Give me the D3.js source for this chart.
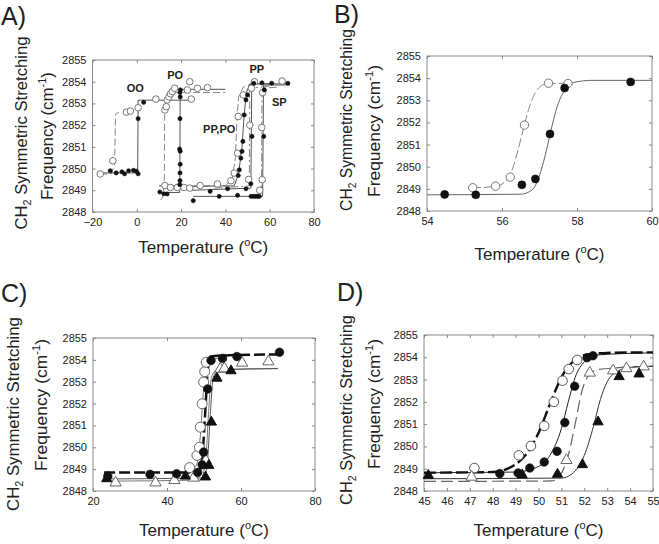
<!DOCTYPE html>
<html><head><meta charset="utf-8">
<script src="https://cdn.jsdelivr.net/npm/d3@7"></script>
<style>body{margin:0;background:#fff}svg{display:block}text{font-family:"Liberation Sans",Arial,sans-serif;fill:#222}</style>
</head><body><svg id="c" width="659" height="544"></svg>
<script>
// ---------- tick labels ----------
const ticksAX = [-20,0,20,40,60,80];
const ticksBX = [54,56,58,60];
const ticksCX = [20,40,60,80];
const ticksDX = [45,46,47,48,49,50,51,52,53,54,55];
const ticksY  = [2848,2849,2850,2851,2852,2853,2854,2855];

// ---------- Panel A data (temperature, frequency) ----------
const aOOFilled = [[-12,2849.9],[-9.3,2849.8],[-6.7,2849.85],[-5.5,2849.76],[-3.7,2849.9],[-1.5,2849.92],[-0.2,2849.88],[0.6,2849.76],[0.6,2852.3],[3.1,2853.05]];
const aOOOpen = [[-16.5,2849.75],[-10.8,2850.36],[-4.7,2852.6],[-2.9,2852.65],[0.6,2852.8],[8.6,2853.2],[24.6,2853.2]];
const aPOFilled = [[10.4,2848.92],[12.2,2848.84],[13.7,2848.83],[19.4,2849.26],[19.5,2849.45],[19.5,2849.8],[19.6,2850.2],[19.3,2850.9],[19.6,2850.8],[19.5,2852.3],[19.6,2853.3],[19.5,2853.5],[19.7,2853.62]];
const aPOOpen = [[12.7,2852.7],[13.3,2852.85],[13.7,2853.16],[14.5,2853.3],[15.2,2853.44],[16.0,2853.54],[17.1,2853.7],[22.8,2853.62],[23.9,2854.0],[27.4,2853.7],[31.9,2853.73]];
const aPPPOFilled = [[45.8,2849.68],[46.3,2849.94],[47.0,2850.48],[47.5,2850.79],[47.9,2851.25],[48.5,2852.47],[49.3,2853.16],[50.0,2853.39]];
const aPPPOOpen = [[12.7,2849.22],[15.2,2849.13],[18.3,2849.13],[21.3,2849.13],[23.9,2849.1],[28.6,2849.22],[36.4,2849.29],[42.5,2849.44],[44.0,2849.79],[45.5,2850.71],[45.8,2852.4],[48.1,2853.39]];
const aPPFilled = [[33.1,2848.95],[41.0,2849.07],[49.3,2849.07],[51.5,2849.3],[52.0,2851.48],[52.8,2853.93],[56.5,2853.95]];
const aPPOpen = [[50.5,2849.5],[51.0,2852.0],[51.8,2853.7],[53.1,2854.0]];
const aSPFilled = [[25.5,2848.52],[37.2,2848.72],[45.5,2848.77],[51.6,2848.72],[52.6,2848.72],[53.6,2848.72],[54.5,2848.72],[55.3,2848.72],[57.3,2851.48],[57.6,2853.62],[60.9,2853.93],[68.2,2853.93]];
const aSPOpen = [[55.5,2849.0],[56.6,2849.49],[56.4,2851.89],[56.8,2853.5],[65.6,2854.03]];
// fit traces
const aOOFilledFit = [[-16.5,2849.8],[0.4,2849.8],[0.6,2853.15],[25.5,2853.15]];
const aOOOpenFit = [[-16.5,2849.75],[-11.5,2849.75],[-10,2850.2],[-9.6,2852.5],[-8,2852.6]];
const aPOFilledFit = [[10,2848.9],[19.4,2848.9],[19.6,2853.65],[40,2853.65]];
const aPOOpenFit = [[10.8,2848.55],[11.8,2848.7],[12.4,2849.3],[12.6,2852.6],[14,2853.2],[17,2853.5],[40,2853.5]];
const aPPPOFilledFit = [[10,2849.2],[44,2849.2],[46,2849.8],[47.5,2851],[48.5,2852.5],[49.5,2853.5],[51,2853.9],[60,2853.9]];
const aPPPOOpenFit = [[12,2849.15],[40,2849.2],[43,2849.5],[44.5,2850.5],[45.3,2852.5],[46,2853.3],[48,2853.75],[52,2853.9]];
const aPPFilledFit = [[25,2849.0],[51.5,2849.1],[51.9,2853.9],[68,2853.9]];
const aPPOpenFit = [[35,2849.1],[50.8,2849.2],[51.0,2853.7],[60,2853.8]];
const aSPFilledFit = [[25.5,2848.72],[56.8,2848.72],[57.2,2853.85],[69,2853.85]];
const aSPOpenFit = [[55,2848.9],[56.3,2849.1],[56.5,2853.7],[64,2853.75]];
const aLabels = ["OO","PO","PP","PP,PO","SP"];
const aLabelPos = [[-0.7,2853.53],[17.3,2854.12],[54.2,2854.42],[37.2,2851.64],[64.3,2852.88]];

// ---------- Panel B ----------
const bFilled = [[54.47,2848.75],[55.3,2848.73],[56.53,2849.18],[56.89,2849.45],[57.28,2851.48],[57.67,2853.55],[59.43,2853.83]];
const bOpen = [[55.22,2849.05],[55.83,2849.12],[56.22,2849.53],[56.6,2851.88],[57.24,2853.77],[57.76,2853.76]];
const bFilledFit = [[54,2848.73],[56.5,2848.76],[56.8,2848.95],[57.0,2849.6],[57.15,2850.5],[57.3,2851.6],[57.45,2852.6],[57.65,2853.4],[57.9,2853.8],[58.4,2853.9],[60,2853.9]];
const bOpenFit = [[55.2,2849.05],[55.8,2849.1],[56.1,2849.35],[56.3,2850.0],[56.45,2850.9],[56.6,2851.9],[56.75,2852.8],[56.95,2853.5],[57.2,2853.75],[57.8,2853.77]];

// ---------- Panel C ----------
const cFilledCircle = [[24.0,2848.68],[35.4,2848.76],[42.6,2848.79],[48.3,2848.85],[49.5,2849.2],[49.9,2849.78],[51.0,2852.67],[51.9,2853.97],[55.0,2854.07],[58.9,2854.15],[70.4,2854.35]];
const cOpenCircle = [[46.1,2849.07],[48.1,2849.63],[48.75,2850.0],[49.0,2850.92],[49.5,2851.99],[49.9,2852.98],[50.2,2853.46],[50.6,2853.89]];
const cFilledTri = [[23.7,2848.56],[45.0,2848.68],[50.4,2848.64],[51.3,2849.17],[52.0,2851.15],[53.5,2853.16],[57.3,2853.5]];
const cOpenTri = [[26.1,2848.38],[36.9,2848.38],[42.0,2848.49],[47.2,2848.6],[50.5,2849.4],[54.4,2853.58],[55.5,2853.6],[60.3,2853.86],[67.4,2853.92]];
const cFilledCircleFit = [[23,2848.85],[48.5,2848.85],[49.5,2849.5],[50.3,2851.5],[51,2853.5],[51.8,2854.15],[55,2854.2],[71,2854.25]];
const cOpenCircleFit = [[46,2848.9],[48,2849.2],[49,2850.5],[49.8,2852.5],[50.5,2853.7],[51.5,2854.0],[56,2854.1]];
const cFilledTriFit = [[23,2848.55],[50,2848.6],[51,2849.5],[51.7,2851.5],[52.5,2853.2],[54,2853.55],[70,2853.6]];
const cOpenTriFit = [[23,2848.45],[49,2848.5],[50.5,2849.5],[51.2,2851.5],[52,2853.2],[53.5,2853.55],[70,2853.6]];

// ---------- Panel D ----------
const dOpenCircle = [[47.2,2849.03],[49.14,2849.6],[49.67,2850.02],[50.25,2850.92],[50.67,2852.0],[51.05,2852.95],[51.32,2853.47],[51.69,2853.88]];
const dFilledCircle = [[48.31,2848.78],[49.11,2848.81],[49.62,2849.03],[50.25,2849.3],[50.81,2849.78],[51.15,2851.07],[51.58,2852.7],[52.12,2853.98],[52.38,2854.07]];
const dOpenTri = [[47.08,2848.63],[51.22,2849.38],[52.24,2853.3],[53.26,2853.4],[53.84,2853.5],[54.59,2853.58]];
const dFilledTri = [[45.19,2848.7],[49.29,2848.72],[50.83,2848.75],[51.92,2849.18],[52.6,2851.1],[53.52,2853.13],[54.39,2853.25]];
const dOpenCircleFit = [[45,2848.82],[48,2848.85],[49,2849.2],[49.5,2849.7],[50,2850.6],[50.5,2851.9],[51,2853.1],[51.5,2853.8],[52,2854.1],[53,2854.2],[55,2854.22]];
const dFilledCircleFit = [[45,2848.82],[49,2848.85],[50,2849.1],[50.5,2849.6],[51,2850.8],[51.3,2852],[51.6,2853.1],[52,2853.8],[52.5,2854.1],[55,2854.2]];
const dOpenTriFit = [[45,2848.43],[50.6,2848.45],[51.0,2848.8],[51.3,2849.6],[51.6,2851.0],[51.9,2852.5],[52.2,2853.2],[52.6,2853.45],[55,2853.6]];
const dFilledTriFit = [[45,2848.55],[51,2848.58],[51.6,2848.9],[52,2849.6],[52.4,2850.9],[52.7,2852.1],[53,2852.9],[53.5,2853.4],[54,2853.55],[55,2853.6]];

// ---------- drawing ----------
const svg = d3.select("#c");

function fitText(sel, cx, cy, target){
  const len = sel.node().getComputedTextLength();
  sel.attr("transform",`translate(${cx},${cy}) rotate(-90) scale(${target/len},1)`);
}

function panel(cfg){
  const g = svg.append("g");
  const x = d3.scaleLinear().domain(cfg.xd).range([cfg.x0,cfg.x1]);
  const y = d3.scaleLinear().domain([2848,2855]).range([cfg.y1,cfg.y0]);
  const ax = (a,t,lab)=>a.tickValues(t).tickSize(-3).tickPadding(lab?6:0).tickFormat(lab?d3.format("d"):"");
  const gb = g.append("g").attr("transform",`translate(0,${cfg.y1})`).call(ax(d3.axisBottom(x),cfg.xt,true));
  const gt = g.append("g").attr("transform",`translate(0,${cfg.y0})`).call(ax(d3.axisTop(x),cfg.xt,false));
  const gl = g.append("g").attr("transform",`translate(${cfg.x0},0)`).call(ax(d3.axisLeft(y),ticksY,true));
  const gr = g.append("g").attr("transform",`translate(${cfg.x1},0)`).call(ax(d3.axisRight(y),ticksY,false));
  [gb,gt,gl,gr].forEach(s=>{s.select(".domain").remove();s.selectAll("line").attr("stroke","#888");
    s.selectAll("text").attr("font-size",11).attr("fill","#222").style("font-family",'"Liberation Sans",Arial,sans-serif');});
  g.append("rect").attr("x",cfg.x0).attr("y",cfg.y0).attr("width",cfg.x1-cfg.x0).attr("height",cfg.y1-cfg.y0)
    .attr("fill","none").attr("stroke","#8a8a8a").attr("stroke-width",1);
  g.append("text").attr("x",cfg.lx).attr("y",cfg.ly).attr("font-size",25).text(cfg.letter);
  const fs = 17;
  const t1 = g.append("text").attr("text-anchor","middle").attr("font-size",fs);
  t1.append("tspan").text("CH");
  t1.append("tspan").attr("font-size",11).attr("dy","0.35em").text("2");
  t1.append("tspan").attr("dy","-0.25em").text(" Symmetric Stretching");
  fitText(t1, cfg.t1x, cfg.tcy, cfg.len1);
  const t2 = g.append("text").attr("text-anchor","middle").attr("font-size",fs);
  t2.append("tspan").text("Frequency (cm");
  t2.append("tspan").attr("font-size",11).attr("dy","-0.6em").text("-1");
  t2.append("tspan").attr("dy","0.4em").text(")");
  fitText(t2, cfg.t2x, cfg.tcy2, cfg.len2);
  const xt = g.append("text").attr("x",(cfg.x0+cfg.x1)/2).attr("y",cfg.xly).attr("text-anchor","middle").attr("font-size",17);
  xt.append("tspan").text("Temperature (");
  xt.append("tspan").attr("font-size",11).attr("dy","-0.6em").text("o");
  xt.append("tspan").attr("dy","0.4em").text("C)");
  return {g,x,y};
}

function fitLine(p, pts, style, curve){
  const ln = d3.line().x(d=>p.x(d[0])).y(d=>p.y(d[1])).curve(curve||d3.curveLinear);
  p.g.append("path").attr("d",ln(pts)).attr("fill","none")
    .attr("stroke",style.c).attr("stroke-width",style.w).attr("stroke-dasharray",style.dash||null);
}
function circles(p, pts, filled, r, sc){
  p.g.append("g").selectAll("circle").data(pts).join("circle")
    .attr("cx",d=>p.x(d[0])).attr("cy",d=>p.y(d[1])).attr("r",r)
    .attr("fill",filled?"#111":"#fff").attr("stroke",filled?"#111":(sc||"#666")).attr("stroke-width",filled?0.6:1);
}
function tris(p, pts, filled, size){
  const sym = d3.symbol(d3.symbolTriangle).size(size);
  p.g.append("g").selectAll("path").data(pts).join("path")
    .attr("transform",d=>`translate(${p.x(d[0])},${p.y(d[1])})`).attr("d",sym)
    .attr("fill",filled?"#111":"#fff").attr("stroke",filled?"#111":"#666").attr("stroke-width",1);
}

const SOLID = {c:"#555",w:1}, DASH = {c:"#888",w:1,dash:"7,3"}, DASHDOT={c:"#888",w:1,dash:"8,3,2,3"};

// Panel A
const pA = panel({xd:[-20,80],xt:ticksAX,x0:92.5,x1:314,y0:60,y1:212,letter:"A)",lx:1,ly:25,t1x:27,t2x:53,tcy:133,tcy2:136,len1:193,len2:128,xly:253});
fitLine(pA,aOOOpenFit,DASH); fitLine(pA,aOOFilledFit,SOLID);
fitLine(pA,aPOOpenFit,DASH); fitLine(pA,aPOFilledFit,SOLID);
fitLine(pA,aPPPOOpenFit,DASH); fitLine(pA,aPPPOFilledFit,SOLID);
fitLine(pA,aPPOpenFit,DASHDOT); fitLine(pA,aPPFilledFit,SOLID);
fitLine(pA,aSPOpenFit,DASHDOT); fitLine(pA,aSPFilledFit,SOLID);
[aOOOpen,aPOOpen,aPPPOOpen,aPPOpen,aSPOpen].forEach(s=>circles(pA,s,false,3.3,"#777"));
[aOOFilled,aPOFilled,aPPPOFilled,aPPFilled,aSPFilled].forEach(s=>circles(pA,s,true,2.1));
pA.g.append("g").selectAll("text").data(aLabels).join("text")
  .attr("x",(d,i)=>pA.x(aLabelPos[i][0])).attr("y",(d,i)=>pA.y(aLabelPos[i][1]))
  .attr("text-anchor","middle").attr("font-size",11).attr("font-weight","bold").text(d=>d);

// Panel B
const pB = panel({xd:[54,60],xt:ticksBX,x0:427,x1:652,y0:56,y1:211,letter:"B)",lx:334,ly:23,t1x:352,t2x:380,tcy:120,tcy2:131,len1:182,len2:132,xly:260});
fitLine(pB,bOpenFit,{c:"#888",w:1,dash:"9,3"},d3.curveMonotoneX);
fitLine(pB,bFilledFit,{c:"#666",w:1},d3.curveMonotoneX);
circles(pB,bOpen,false,4.2,"#777");
circles(pB,bFilled,true,4);

// Panel C
const pC = panel({xd:[20,80],xt:ticksCX,x0:93,x1:315,y0:338,y1:491,letter:"C)",lx:1,ly:302,t1x:19,t2x:47,tcy:414,tcy2:405,len1:194,len2:132,xly:536});
fitLine(pC,cOpenTriFit,{c:"#777",w:1},d3.curveMonotoneX);
fitLine(pC,cFilledTriFit,{c:"#555",w:1},d3.curveMonotoneX);
fitLine(pC,cOpenCircleFit,{c:"#777",w:1},d3.curveMonotoneX);
fitLine(pC,cFilledCircleFit,{c:"#111",w:2.5,dash:"11,4"},d3.curveMonotoneX);
tris(pC,cOpenTri,false,55);
circles(pC,cOpenCircle,false,5,"#666");
tris(pC,cFilledTri,true,45);
circles(pC,cFilledCircle,true,4.3);

// Panel D
const pD = panel({xd:[45,55],xt:ticksDX,x0:424,x1:653,y0:335,y1:491,letter:"D)",lx:337,ly:301,t1x:352,t2x:380,tcy:410,tcy2:404,len1:190,len2:130,xly:536});
fitLine(pD,dOpenTriFit,{c:"#666",w:1.2,dash:"12,5"},d3.curveMonotoneX);
fitLine(pD,dFilledTriFit,{c:"#333",w:1},d3.curveMonotoneX);
fitLine(pD,dFilledCircleFit,{c:"#222",w:1},d3.curveMonotoneX);
fitLine(pD,dOpenCircleFit,{c:"#111",w:2.4,dash:"12,4"},d3.curveMonotoneX);
circles(pD,dOpenCircle,false,4.8,"#555");
tris(pD,dOpenTri,false,55);
circles(pD,dFilledCircle,true,4.3);
tris(pD,dFilledTri,true,45);
</script></body></html>
